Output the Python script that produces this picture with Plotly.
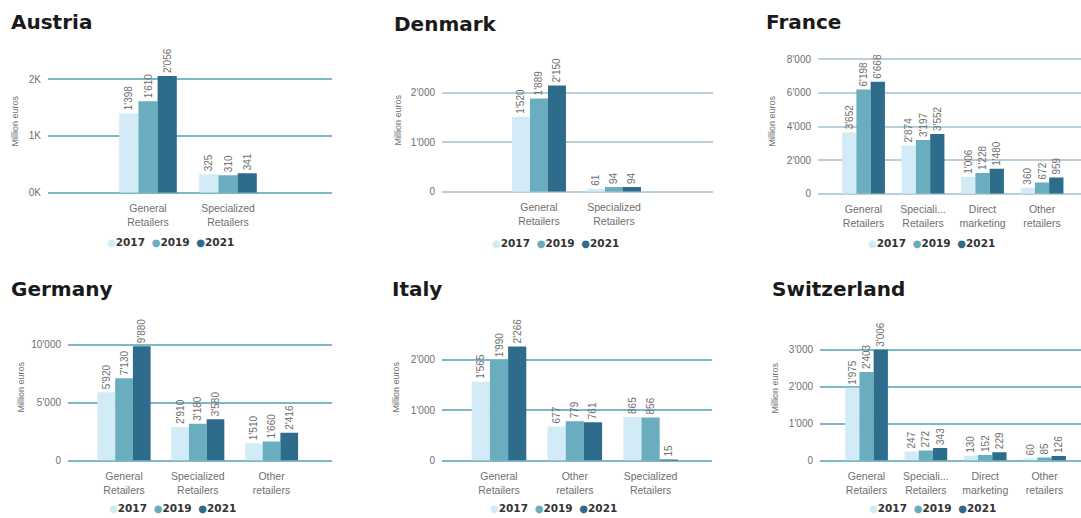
import plotly.graph_objects as go

# ---------------- data ----------------
years = ["2017", "2019", "2021"]

austria_categories = ["General<br>Retailers", "Specialized<br>Retailers"]
austria_2017 = [1398, 325]
austria_2019 = [1610, 310]
austria_2021 = [2056, 341]
austria_tickvals = [0, 1000, 2000]
austria_ticktext = ["0K", "1K", "2K"]

denmark_categories = ["General<br>Retailers", "Specialized<br>Retailers"]
denmark_2017 = [1520, 61]
denmark_2019 = [1889, 94]
denmark_2021 = [2150, 94]
denmark_tickvals = [0, 1000, 2000]

france_categories = ["General<br>Retailers", "Speciali...<br>Retailers", "Direct<br>marketing", "Other<br>retailers"]
france_2017 = [3652, 2874, 1006, 360]
france_2019 = [6198, 3197, 1228, 672]
france_2021 = [6668, 3552, 1480, 959]
france_tickvals = [0, 2000, 4000, 6000, 8000]

germany_categories = ["General<br>Retailers", "Specialized<br>Retailers", "Other<br>retailers"]
germany_2017 = [5920, 2910, 1510]
germany_2019 = [7130, 3180, 1660]
germany_2021 = [9880, 3580, 2416]
germany_tickvals = [0, 5000, 10000]

italy_categories = ["General<br>Retailers", "Other<br>retailers", "Specialized<br>Retailers"]
italy_2017 = [1565, 677, 865]
italy_2019 = [1990, 779, 856]
italy_2021 = [2266, 761, 15]
italy_tickvals = [0, 1000, 2000]

switzerland_categories = ["General<br>Retailers", "Speciali...<br>Retailers", "Direct<br>marketing", "Other<br>retailers"]
switzerland_2017 = [1975, 247, 130, 60]
switzerland_2019 = [2403, 272, 152, 85]
switzerland_2021 = [3006, 343, 229, 126]
switzerland_tickvals = [0, 1000, 2000, 3000]

y_title = "Million euros"

# ---------------- styles ----------------
W, H = 1081, 518
BARGAP = 0.28
colors = ["#d3ebf6", "#6aadbf", "#2f6b8b"]
grid_teal = "#7db8c9"
grid_light = "#b9cfdb"
label_grey = "#6f6f6f"

panels = [
    dict(name="Austria", cats=austria_categories, vals=[austria_2017, austria_2019, austria_2021],
         tickvals=austria_tickvals, ticktext=austria_ticktext),
    dict(name="Denmark", cats=denmark_categories, vals=[denmark_2017, denmark_2019, denmark_2021],
         tickvals=denmark_tickvals, ticktext=None),
    dict(name="France", cats=france_categories, vals=[france_2017, france_2019, france_2021],
         tickvals=france_tickvals, ticktext=None),
    dict(name="Germany", cats=germany_categories, vals=[germany_2017, germany_2019, germany_2021],
         tickvals=germany_tickvals, ticktext=None),
    dict(name="Italy", cats=italy_categories, vals=[italy_2017, italy_2019, italy_2021],
         tickvals=italy_tickvals, ticktext=None),
    dict(name="Switzerland", cats=switzerland_categories, vals=[switzerland_2017, switzerland_2019, switzerland_2021],
         tickvals=switzerland_tickvals, ticktext=None),
]

geom = [
    dict(x0=48, x1=332, xr=[-1.25, 2.3], yz=195, yt=40, ppk=57.5, grid=grid_teal,
         tx=9, ty=22, ytx=15, yty=122, lx=170, ly=245),
    dict(x0=442, x1=713, xr=[-1.293, 2.32], yz=194, yt=40, ppk=50.0, grid=grid_light,
         tx=392, ty=24, ytx=398, yty=122, lx=555, ly=246),
    dict(x0=818, x1=1081, xr=[-0.765, 3.655], yz=196, yt=40, ppk=17.0, grid=grid_light,
         tx=764, ty=22, ytx=772, yty=123, lx=931, ly=246),
    dict(x0=68, x1=332, xr=[-0.76, 2.82], yz=466, yt=300, ppk=11.7, grid=grid_teal,
         tx=9, ty=292, ytx=21, yty=392, lx=172, ly=514),
    dict(x0=442, x1=712, xr=[-0.752, 2.81], yz=466, yt=300, ppk=51.0, grid=grid_teal,
         tx=390, ty=292, ytx=396, yty=392, lx=553, ly=514),
    dict(x0=820, x1=1081, xr=[-0.784, 3.615], yz=466, yt=300, ppk=37.3, grid=grid_teal,
         tx=770, ty=292, ytx=775, yty=393, lx=932, ly=514),
]

fig = go.Figure()
annotations = []
layout_axes = {}

for i, (p, g) in enumerate(zip(panels, geom)):
    n = "" if i == 0 else str(i + 1)
    xa, ya = "x" + n, "y" + n
    for yr, vals, col in zip(years, p["vals"], colors):
        fig.add_trace(go.Bar(
            x=p["cats"], y=vals, name=yr, marker=dict(color=col, line=dict(width=0)),
            xaxis=xa, yaxis=ya, showlegend=False,
            texttemplate="%{y:,}", textposition="outside", textangle=-90,
            constraintext="none",
            textfont=dict(size=10, color=label_grey, family="Liberation Sans"),
            cliponaxis=False,
        ))
    ymax = (g["yz"] - g["yt"]) / g["ppk"] * 1000
    layout_axes["xaxis" + n] = dict(
        domain=[g["x0"] / W, g["x1"] / W], anchor=ya, type="category",
        range=g["xr"], showgrid=False, showline=False, ticks="", zeroline=False,
        ticklabelstandoff=8,
        tickfont=dict(size=10.5, color=label_grey, family="Liberation Sans"),
        fixedrange=True,
    )
    yax = dict(
        domain=[1 - g["yz"] / H, 1 - g["yt"] / H], anchor=xa,
        range=[0, ymax], tickvals=p["tickvals"], tickformat=",d",
        showgrid=True, gridcolor=g["grid"], gridwidth=1.5,
        zeroline=True, zerolinecolor=g["grid"], zerolinewidth=1.5,
        showline=False, ticks="", ticklabelstandoff=6,
        tickfont=dict(size=10, color=label_grey, family="Liberation Sans"),
        fixedrange=True,
    )
    if p["ticktext"] is not None:
        yax["ticktext"] = p["ticktext"]
    layout_axes["yaxis" + n] = yax

    # panel title
    annotations.append(dict(
        text="<b>" + p["name"] + "</b>", x=g["tx"] / W, y=1 - g["ty"] / H,
        xref="paper", yref="paper", xanchor="left", yanchor="middle", showarrow=False,
        font=dict(size=20, color="#1a1a1a", family="DejaVu Sans"),
    ))
    # y-axis title
    annotations.append(dict(
        text=y_title, x=g["ytx"] / W, y=1 - g["yty"] / H, textangle=-90,
        xref="paper", yref="paper", xanchor="center", yanchor="middle", showarrow=False,
        font=dict(size=9, color=label_grey, family="Liberation Sans"),
    ))
    # legend
    parts = []
    for yr, col in zip(years, colors):
        parts.append("<span style='color:%s;font-size:10px'>●</span><b>%s</b>" % (col, yr))
    annotations.append(dict(
        text="&nbsp;&nbsp;".join(parts), x=g["lx"] / W, y=1 - g["ly"] / H,
        xref="paper", yref="paper", xanchor="center", yanchor="middle", showarrow=False,
        font=dict(size=10.5, color="#333333", family="DejaVu Sans"),
    ))

fig.update_layout(
    width=W, height=H, margin=dict(l=0, r=0, t=0, b=0),
    paper_bgcolor="white", plot_bgcolor="white",
    barmode="group", bargap=BARGAP, bargroupgap=0,
    separators=".'",
    annotations=annotations, showlegend=False,
    **layout_axes,
)

fig.write_html("out.html")
